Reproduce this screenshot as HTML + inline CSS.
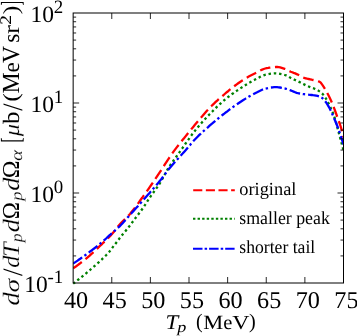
<!DOCTYPE html>
<html><head><meta charset="utf-8"><title>plot</title>
<style>
html,body{margin:0;padding:0;background:#fff;}
body{width:357px;height:336px;overflow:hidden;font-family:"Liberation Serif",serif;}
svg{display:block;position:absolute;left:0;top:0;will-change:transform;}
text{font-family:"Liberation Serif",serif;fill:#000;text-rendering:geometricPrecision;}
.it{font-style:italic;}
.er{stroke:#fff;stroke-width:0.2px;}
</style></head><body>
<svg width="357" height="336" viewBox="0 0 357 336">
<rect x="0" y="0" width="357" height="336" fill="#fff"/>

<defs><clipPath id="c"><rect x="73.15" y="13.0" width="270.85" height="271.5"/></clipPath></defs>
<g clip-path="url(#c)" fill="none" stroke-width="2.3">
<path d="M73.2,268.2 L74.7,267.2 L76.2,266.2 L77.7,265.1 L79.2,264.0 L80.7,262.9 L82.2,261.7 L83.7,260.5 L85.2,259.3 L86.7,258.1 L88.2,256.8 L89.7,255.6 L91.2,254.2 L92.7,252.9 L94.2,251.5 L95.7,250.0 L97.2,248.6 L98.7,247.1 L100.2,245.7 L101.7,244.3 L103.2,242.8 L104.7,241.4 L106.2,240.0 L107.7,238.5 L109.2,237.0 L110.7,235.4 L112.2,233.8 L113.7,232.1 L115.2,230.1 L116.7,228.1 L118.2,226.2 L119.7,224.4 L121.2,222.8 L122.7,221.3 L124.2,219.9 L125.7,218.5 L127.2,217.0 L128.7,215.4 L130.2,213.7 L131.7,211.8 L133.2,209.9 L134.7,208.0 L136.2,206.0 L137.7,204.0 L139.2,201.9 L140.7,199.8 L142.2,197.8 L143.7,195.7 L145.2,193.6 L146.7,191.5 L148.2,189.3 L149.7,187.2 L151.2,185.0 L152.7,182.8 L154.2,180.6 L155.7,178.3 L157.2,176.1 L158.7,173.9 L160.2,171.7 L161.7,169.4 L163.2,167.1 L164.7,164.7 L166.2,162.4 L167.7,160.1 L169.2,157.9 L170.7,155.7 L172.2,153.5 L173.7,151.4 L175.2,149.4 L176.7,147.4 L178.2,145.5 L179.7,143.6 L181.2,141.7 L182.7,139.8 L184.2,138.0 L185.7,136.1 L187.2,134.2 L188.7,132.4 L190.2,130.5 L191.7,128.7 L193.2,126.9 L194.7,125.1 L196.2,123.3 L197.7,121.5 L199.2,119.7 L200.7,117.9 L202.2,116.2 L203.7,114.4 L205.2,112.7 L206.7,111.0 L208.2,109.4 L209.7,107.8 L211.2,106.3 L212.7,104.8 L214.2,103.4 L215.7,101.9 L217.2,100.6 L218.7,99.2 L220.2,97.9 L221.7,96.6 L223.2,95.3 L224.7,94.0 L226.2,92.7 L227.7,91.5 L229.2,90.2 L230.7,89.0 L232.2,87.8 L233.7,86.6 L235.2,85.5 L236.7,84.4 L238.2,83.3 L239.7,82.2 L241.2,81.2 L242.7,80.2 L244.2,79.3 L245.7,78.4 L247.2,77.5 L248.7,76.6 L250.2,75.8 L251.7,75.0 L253.2,74.2 L254.7,73.5 L256.2,72.7 L257.7,72.0 L259.2,71.1 L260.7,70.3 L262.2,69.6 L263.7,69.0 L265.2,68.5 L266.7,68.1 L268.2,67.9 L269.7,67.6 L271.2,67.4 L272.7,67.3 L274.2,67.1 L275.7,67.0 L277.2,67.0 L278.7,67.1 L280.2,67.4 L281.7,67.8 L283.2,68.3 L284.7,68.8 L286.2,69.3 L287.7,70.1 L289.2,71.0 L290.7,71.7 L292.2,72.3 L293.7,72.9 L295.2,73.4 L296.7,74.1 L298.2,74.8 L299.7,75.6 L301.2,76.5 L302.7,77.3 L304.2,77.9 L305.7,78.3 L307.2,78.7 L308.7,79.0 L310.2,79.3 L311.7,79.7 L313.2,80.0 L314.7,80.3 L316.2,80.7 L317.7,81.1 L319.2,81.6 L320.7,82.5 L322.2,84.6 L323.7,86.8 L325.2,89.3 L326.7,91.9 L328.2,94.8 L329.7,97.8 L331.2,101.1 L332.7,104.5 L334.2,108.3 L335.7,112.5 L337.2,116.7 L338.7,120.7 L340.2,125.0 L341.7,129.8 L343.2,136.1 L343.5,137.5" stroke="#ff0000" stroke-dasharray="10.6 4.67"/>
<path d="M73.1,283.7 L74.6,282.6 L76.1,281.4 L77.6,280.2 L79.1,279.0 L80.6,277.8 L82.1,276.6 L83.6,275.4 L85.1,274.2 L86.6,272.9 L88.1,271.6 L89.6,270.4 L91.1,269.0 L92.6,267.7 L94.1,266.4 L95.6,265.1 L97.1,263.7 L98.6,262.4 L100.1,261.0 L101.6,259.6 L103.1,258.1 L104.6,256.7 L106.1,255.2 L107.6,253.6 L109.1,251.9 L110.6,250.1 L112.1,248.1 L113.6,246.1 L115.1,244.2 L116.6,242.2 L118.1,240.3 L119.6,238.3 L121.1,236.4 L122.6,234.5 L124.1,232.7 L125.6,230.9 L127.1,229.1 L128.6,227.2 L130.1,225.3 L131.6,223.3 L133.1,221.3 L134.6,219.2 L136.1,217.2 L137.6,215.3 L139.1,213.3 L140.6,211.3 L142.1,209.3 L143.6,207.1 L145.1,204.8 L146.6,202.5 L148.1,200.2 L149.6,197.9 L151.1,195.7 L152.6,193.6 L154.1,191.5 L155.6,189.4 L157.1,187.3 L158.6,185.2 L160.1,182.8 L161.6,180.3 L163.1,177.6 L164.6,174.7 L166.1,172.0 L167.6,169.4 L169.1,167.0 L170.6,164.7 L172.1,162.6 L173.6,160.4 L175.1,158.3 L176.6,156.3 L178.1,154.2 L179.6,152.1 L181.1,150.0 L182.6,147.9 L184.1,145.7 L185.6,143.5 L187.1,141.4 L188.6,139.3 L190.1,137.2 L191.6,135.1 L193.1,133.1 L194.6,131.2 L196.1,129.3 L197.6,127.5 L199.1,125.7 L200.6,124.0 L202.1,122.3 L203.6,120.6 L205.1,119.0 L206.6,117.4 L208.1,115.8 L209.6,114.2 L211.1,112.7 L212.6,111.2 L214.1,109.7 L215.6,108.2 L217.1,106.7 L218.6,105.3 L220.1,103.9 L221.6,102.5 L223.1,101.2 L224.6,99.9 L226.1,98.6 L227.6,97.4 L229.1,96.3 L230.6,95.1 L232.1,94.0 L233.6,93.0 L235.1,91.9 L236.6,90.9 L238.1,89.9 L239.6,88.9 L241.1,87.9 L242.6,86.9 L244.1,86.0 L245.6,85.0 L247.1,84.1 L248.6,83.1 L250.1,82.3 L251.6,81.4 L253.1,80.6 L254.6,79.8 L256.1,79.0 L257.6,78.2 L259.1,77.4 L260.6,76.6 L262.1,75.9 L263.6,75.3 L265.1,74.8 L266.6,74.5 L268.1,74.2 L269.6,73.9 L271.1,73.7 L272.6,73.5 L274.1,73.4 L275.6,73.4 L277.1,73.5 L278.6,73.6 L280.1,73.9 L281.6,74.2 L283.1,74.6 L284.6,75.0 L286.1,75.4 L287.6,76.1 L289.1,77.0 L290.6,77.8 L292.1,78.5 L293.6,79.3 L295.1,80.0 L296.6,80.7 L298.1,81.4 L299.6,82.1 L301.1,82.9 L302.6,83.7 L304.1,84.4 L305.6,85.2 L307.1,85.9 L308.6,86.5 L310.1,87.1 L311.6,87.7 L313.1,88.2 L314.6,88.8 L316.1,89.5 L317.6,90.2 L319.1,91.1 L320.6,92.1 L322.1,93.4 L323.6,95.1 L325.1,97.2 L326.6,99.6 L328.1,102.4 L329.6,105.5 L331.1,108.7 L332.6,112.1 L334.1,116.0 L335.6,120.9 L337.1,126.5 L338.6,132.1 L340.1,137.7 L341.6,143.3 L343.1,148.7 L343.5,150.0" stroke="#008000" stroke-dasharray="2.45 2.84"/>
<path d="M73.1,263.6 L74.6,262.6 L76.1,261.6 L77.6,260.6 L79.1,259.5 L80.6,258.5 L82.1,257.4 L83.6,256.3 L85.1,255.3 L86.6,254.2 L88.1,253.1 L89.6,251.9 L91.1,250.8 L92.6,249.6 L94.1,248.5 L95.6,247.3 L97.1,246.1 L98.6,244.9 L100.1,243.7 L101.6,242.4 L103.1,241.1 L104.6,239.8 L106.1,238.5 L107.6,237.1 L109.1,235.7 L110.6,234.4 L112.1,233.0 L113.6,231.7 L115.1,230.4 L116.6,229.1 L118.1,227.7 L119.6,226.3 L121.1,224.8 L122.6,223.2 L124.1,221.5 L125.6,219.8 L127.1,218.1 L128.6,216.4 L130.1,214.7 L131.6,213.1 L133.1,211.4 L134.6,209.8 L136.1,208.1 L137.6,206.4 L139.1,204.8 L140.6,203.1 L142.1,201.4 L143.6,199.7 L145.1,198.0 L146.6,196.3 L148.1,194.6 L149.6,192.9 L151.1,191.2 L152.6,189.5 L154.1,187.8 L155.6,186.0 L157.1,184.2 L158.6,182.4 L160.1,180.6 L161.6,178.7 L163.1,176.7 L164.6,174.7 L166.1,172.7 L167.6,170.7 L169.1,168.8 L170.6,167.0 L172.1,165.2 L173.6,163.5 L175.1,161.8 L176.6,160.2 L178.1,158.5 L179.6,156.9 L181.1,155.2 L182.6,153.6 L184.1,151.9 L185.6,150.2 L187.1,148.4 L188.6,146.6 L190.1,144.9 L191.6,143.1 L193.1,141.4 L194.6,139.8 L196.1,138.2 L197.6,136.7 L199.1,135.2 L200.6,133.8 L202.1,132.4 L203.6,131.0 L205.1,129.7 L206.6,128.4 L208.1,127.1 L209.6,125.7 L211.1,124.4 L212.6,123.2 L214.1,121.9 L215.6,120.6 L217.1,119.4 L218.6,118.1 L220.1,116.9 L221.6,115.7 L223.1,114.5 L224.6,113.4 L226.1,112.2 L227.6,111.1 L229.1,109.9 L230.6,108.8 L232.1,107.7 L233.6,106.6 L235.1,105.6 L236.6,104.5 L238.1,103.5 L239.6,102.5 L241.1,101.5 L242.6,100.5 L244.1,99.6 L245.6,98.6 L247.1,97.7 L248.6,96.8 L250.1,95.9 L251.6,95.1 L253.1,94.3 L254.6,93.5 L256.1,92.7 L257.6,92.0 L259.1,91.2 L260.6,90.5 L262.1,89.8 L263.6,89.2 L265.1,88.7 L266.6,88.4 L268.1,88.0 L269.6,87.7 L271.1,87.5 L272.6,87.3 L274.1,87.1 L275.6,87.1 L277.1,87.2 L278.6,87.3 L280.1,87.5 L281.6,87.8 L283.1,88.1 L284.6,88.4 L286.1,88.8 L287.6,89.2 L289.1,89.8 L290.6,90.4 L292.1,91.0 L293.6,91.6 L295.1,92.2 L296.6,92.8 L298.1,93.2 L299.6,93.5 L301.1,93.8 L302.6,94.0 L304.1,94.2 L305.6,94.3 L307.1,94.5 L308.6,94.7 L310.1,94.8 L311.6,95.0 L313.1,95.2 L314.6,95.3 L316.1,95.6 L317.6,95.9 L319.1,96.4 L320.6,97.1 L322.1,97.9 L323.6,99.2 L325.1,101.1 L326.6,103.2 L328.1,105.6 L329.6,108.3 L331.1,111.3 L332.6,114.7 L334.1,118.2 L335.6,121.8 L337.1,125.5 L338.6,129.5 L340.1,133.9 L341.6,138.6 L343.1,143.2 L343.5,144.5" stroke="#0000ff" stroke-dasharray="11 2.75 2.4 2.98"/>
</g>
<g stroke="#000" stroke-width="1" fill="none">
<rect x="73.15" y="13.0" width="270.35" height="270.0"/>
<path d="M111.77,283.0 v-6 M111.77,13.0 v6 M150.39,283.0 v-6 M150.39,13.0 v6 M189.01,283.0 v-6 M189.01,13.0 v6 M227.64,283.0 v-6 M227.64,13.0 v6 M266.26,283.0 v-6 M266.26,13.0 v6 M304.88,283.0 v-6 M304.88,13.0 v6 M73.15,255.91 h3 M343.5,255.91 h-3 M73.15,240.06 h3 M343.5,240.06 h-3 M73.15,228.81 h3 M343.5,228.81 h-3 M73.15,220.09 h3 M343.5,220.09 h-3 M73.15,212.97 h3 M343.5,212.97 h-3 M73.15,206.94 h3 M343.5,206.94 h-3 M73.15,201.72 h3 M343.5,201.72 h-3 M73.15,197.12 h3 M343.5,197.12 h-3 M73.15,193.00 h6 M343.5,193.00 h-6 M73.15,165.91 h3 M343.5,165.91 h-3 M73.15,150.06 h3 M343.5,150.06 h-3 M73.15,138.81 h3 M343.5,138.81 h-3 M73.15,130.09 h3 M343.5,130.09 h-3 M73.15,122.97 h3 M343.5,122.97 h-3 M73.15,116.94 h3 M343.5,116.94 h-3 M73.15,111.72 h3 M343.5,111.72 h-3 M73.15,107.12 h3 M343.5,107.12 h-3 M73.15,103.00 h6 M343.5,103.00 h-6 M73.15,75.91 h3 M343.5,75.91 h-3 M73.15,60.06 h3 M343.5,60.06 h-3 M73.15,48.81 h3 M343.5,48.81 h-3 M73.15,40.09 h3 M343.5,40.09 h-3 M73.15,32.97 h3 M343.5,32.97 h-3 M73.15,26.94 h3 M343.5,26.94 h-3 M73.15,21.72 h3 M343.5,21.72 h-3 M73.15,17.12 h3 M343.5,17.12 h-3" stroke-width="0.85"/>
</g>
<text transform="translate(76.05,307.5) scale(1.008,1)" font-size="24.0" text-anchor="middle">40</text>
<text transform="translate(114.67,307.5) scale(1.008,1)" font-size="24.0" text-anchor="middle">45</text>
<text transform="translate(153.29,307.5) scale(1.008,1)" font-size="24.0" text-anchor="middle">50</text>
<text transform="translate(191.91,307.5) scale(1.008,1)" font-size="24.0" text-anchor="middle">55</text>
<text transform="translate(230.54,307.5) scale(1.008,1)" font-size="24.0" text-anchor="middle">60</text>
<text transform="translate(269.16,307.5) scale(1.008,1)" font-size="24.0" text-anchor="middle">65</text>
<text transform="translate(307.78,307.5) scale(1.008,1)" font-size="24.0" text-anchor="middle">70</text>
<text transform="translate(346.40,307.5) scale(1.008,1)" font-size="24.0" text-anchor="middle">75</text>
<text x="63.2" y="21.5" font-size="23.5" text-anchor="end">10<tspan font-size="18.9" dy="-8.8" dx="-0.3">2</tspan></text>
<text x="63.2" y="111.7" font-size="23.5" text-anchor="end">10<tspan font-size="18.9" dy="-8.8" dx="-0.3">1</tspan></text>
<text x="63.2" y="201.6" font-size="23.5" text-anchor="end">10<tspan font-size="18.9" dy="-8.8" dx="-0.3">0</tspan></text>
<text x="63.2" y="291.6" font-size="23.5" text-anchor="end">10<tspan font-size="18.9" dy="-8.8" dx="-0.3">-1</tspan></text>
<text class="it" transform="translate(165.40,329.40) scale(1.047,0.955)" font-size="21.90">T</text>
<text class="it" transform="translate(177.36,332.33) scale(1.088,0.919)" font-size="16.70">p</text>
<text transform="translate(195.93,328.41) scale(0.981,1.019)" font-size="20.24">(</text>
<text transform="translate(203.15,329.20) scale(1.056,0.947)" font-size="21.30">M</text>
<text transform="translate(223.20,329.20) scale(1.004,0.996)" font-size="20.45">e</text>
<text transform="translate(232.13,329.10) scale(1.092,0.915)" font-size="21.85">V</text>
<text transform="translate(249.05,328.41) scale(0.991,1.009)" font-size="20.43">)</text>
<text class="it er" transform="rotate(-90) translate(-305.40,18.96) scale(1.063,0.941)" font-size="24.91">d</text>
<text class="it er" transform="rotate(-90) translate(-292.43,18.99) scale(1.143,0.875)" font-size="24.38">σ</text>
<text transform="rotate(-90) translate(-275.90,21.63) scale(0.987,1.014)" font-size="27.73">/</text>
<text class="it er" transform="rotate(-90) translate(-267.73,18.96) scale(1.015,0.985)" font-size="23.79">d</text>
<text class="it er" transform="rotate(-90) translate(-257.11,19.20) scale(1.048,0.954)" font-size="24.98">T</text>
<text class="it er" transform="rotate(-90) translate(-242.36,22.41) scale(1.042,0.959)" font-size="17.07">p</text>
<text class="it er" transform="rotate(-90) translate(-232.20,18.96) scale(1.063,0.941)" font-size="24.91">d</text>
<text transform="rotate(-90) translate(-219.20,19.20) scale(0.975,1.025)" font-size="23.72">Ω</text>
<text class="it er" transform="rotate(-90) translate(-200.71,22.41) scale(1.064,0.939)" font-size="17.43">p</text>
<text class="it er" transform="rotate(-90) translate(-190.70,18.96) scale(1.063,0.941)" font-size="24.91">d</text>
<text transform="rotate(-90) translate(-178.14,19.20) scale(0.992,1.008)" font-size="24.12">Ω</text>
<text class="it er" transform="rotate(-90) translate(-160.92,22.13) scale(1.122,0.891)" font-size="18.63">α</text>
<text transform="rotate(-90) translate(-142.77,20.41) scale(0.755,1.324)" font-size="20.81">[</text>
<text class="it er" transform="rotate(-90) translate(-136.28,18.53) scale(1.063,0.941)" font-size="23.23">μ</text>
<text transform="rotate(-90) translate(-124.00,18.97) scale(1.030,0.971)" font-size="24.16">b</text>
<text transform="rotate(-90) translate(-110.80,21.63) scale(0.960,1.041)" font-size="26.99">/</text>
<text transform="rotate(-90) translate(-101.65,18.17) scale(1.096,0.913)" font-size="23.81">(</text>
<text transform="rotate(-90) translate(-93.48,19.20) scale(0.982,1.018)" font-size="24.14">M</text>
<text transform="rotate(-90) translate(-72.60,18.97) scale(0.993,1.007)" font-size="23.13">e</text>
<text transform="rotate(-90) translate(-63.02,18.83) scale(0.980,1.020)" font-size="24.14">V</text>
<text transform="rotate(-90) translate(-42.76,18.97) scale(1.002,0.998)" font-size="23.34">s</text>
<text transform="rotate(-90) translate(-33.95,19.20) scale(1.081,0.925)" font-size="25.24">r</text>
<text transform="rotate(-90) translate(-24.76,11.20) scale(1.092,0.916)" font-size="17.82">2</text>
<text transform="rotate(-90) translate(-14.24,18.17) scale(1.096,0.913)" font-size="23.81">)</text>
<text transform="rotate(-90) translate(-5.40,20.41) scale(0.711,1.407)" font-size="19.58">]</text>
<g fill="none" stroke-width="2.1">
<path d="M193.2,190.3 H234.8" stroke="#ff0000" stroke-dasharray="9.1 3.54"/>
<path d="M193,218.8 H234.8" stroke="#008000" stroke-dasharray="2.4 2.17"/>
<path d="M193,248.8 H234.6" stroke="#0000ff" stroke-dasharray="9.5 2.1 2.5 2.0"/>
</g>
<g font-size="18.5">
<text transform="translate(239.3,194.5) scale(0.992,1)">original</text>
<text transform="translate(239.3,223.5) scale(0.963,1)">smaller peak</text>
<text transform="translate(239.3,252.9) scale(0.954,1)">shorter tail</text>
</g>
</svg></body></html>
